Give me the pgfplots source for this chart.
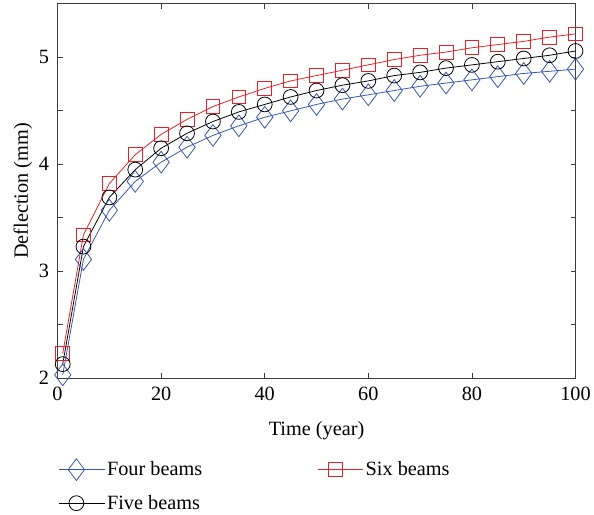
\documentclass[border=0pt]{standalone}
\usepackage{fontspec}
\setmainfont{Liberation Serif}
\usepackage{pgfplots}
\pgfplotsset{compat=1.18}
\definecolor{fourblue}{RGB}{55,85,180}
\definecolor{sixred}{RGB}{235,30,40}
\definecolor{axgray}{RGB}{60,60,60}
\pgfplotstableread{
x four five six
1 2.03 2.13 2.23
5 3.11 3.23 3.34
10 3.57 3.69 3.82
15 3.84 3.95 4.09
20 4.02 4.15 4.28
25 4.16 4.29 4.42
30 4.27 4.40 4.54
35 4.36 4.49 4.63
40 4.44 4.56 4.71
45 4.50 4.63 4.78
50 4.56 4.69 4.83
55 4.61 4.74 4.88
60 4.65 4.78 4.93
65 4.69 4.83 4.98
70 4.73 4.86 5.02
75 4.76 4.90 5.05
80 4.79 4.93 5.09
85 4.82 4.96 5.12
90 4.85 4.99 5.15
95 4.87 5.02 5.19
100 4.89 5.06 5.22
}\datatable
\begin{document}
\begin{tikzpicture}
\begin{axis}[
  scale only axis,
  width=522bp, height=377bp,
  xmin=0, xmax=100, ymin=2, ymax=5.5,
  xtick={0,20,...,100},
  ytick={2,3,4,5},
  minor ytick={2.5,3.5,4.5},
  major tick length=5bp, minor tick length=5bp,
  tick style={axgray, line width=0.8pt},
  axis line style={axgray, line width=1pt},
  font=\fontsize{20.5}{24}\selectfont,
  /pgf/number format/assume math mode=true,
  xticklabel style={yshift=-6bp},
  yticklabel style={xshift=-5bp},
  xlabel={Time (year)},
  ylabel={Deflection (mm)},
  xlabel style={yshift=-14bp},
  ylabel style={yshift=0bp},
  legend columns=2,
  legend style={at={(-0.004,-0.21)}, anchor=north west, draw=none, fill=none,
    font=\fontsize{20.5}{24}\selectfont,
    /tikz/every even column/.append style={column sep=114bp},
    row sep=13bp},
  legend cell align=left,
  legend image code/.code={
    \path (0bp,0bp) -- (46bp,0bp);
    \draw[mark repeat=2, mark phase=2, #1] plot coordinates {(0bp,0bp) (17.5bp,0bp) (35bp,0bp)};
  },
]
\addplot[fourblue, line width=0.8pt, mark=diamond, mark size=11pt, mark options={line width=0.8pt, fill=none}] table[x=x,y=four] {\datatable};
\addlegendentry{Four beams}
\addplot[sixred, line width=0.8pt, mark=square, mark size=7pt, mark options={line width=0.8pt, fill=none}] table[x=x,y=six] {\datatable};
\addlegendentry{Six beams}
\addplot[black, line width=0.8pt, mark=o, mark size=7.5pt, mark options={line width=0.8pt, fill=none}] table[x=x,y=five] {\datatable};
\addlegendentry{Five beams}
\end{axis}
\path ([xshift=-58bp,yshift=4bp]current axis.north west);
\end{tikzpicture}
\end{document}
